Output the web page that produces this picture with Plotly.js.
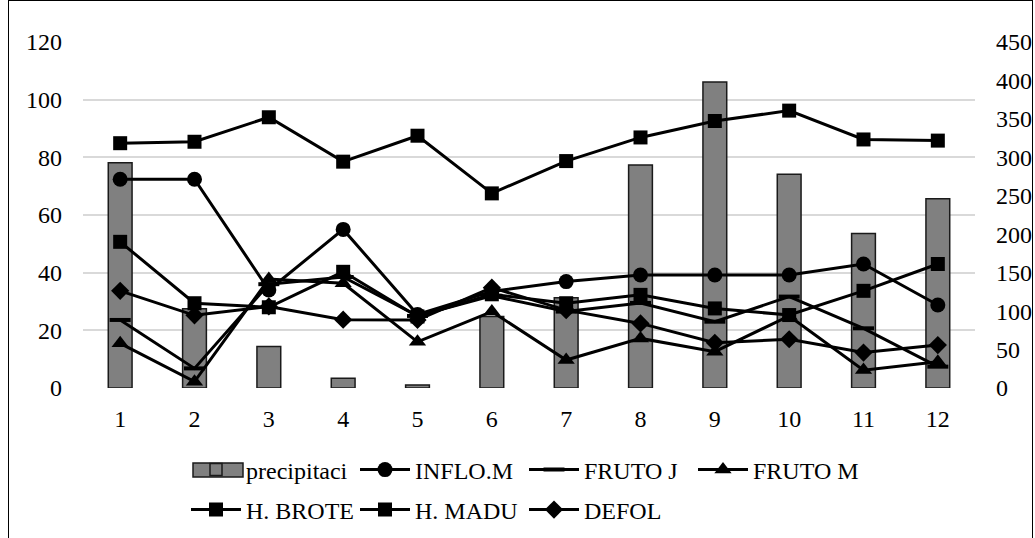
<!DOCTYPE html>
<html>
<head>
<meta charset="utf-8">
<script src="https://cdn.plot.ly/plotly-3.0.1.min.js"></script>
<style>
html,body{margin:0;padding:0;background:#fff;overflow:hidden;}
#wrap{position:relative;width:1035px;height:538px;}
#frame{position:absolute;left:8px;top:0px;width:1025px;height:600px;border:1.5px solid #000;box-sizing:border-box;pointer-events:none;}
#chart{position:absolute;left:0;top:0;width:1035px;height:538px;}
html body #wrap #chart svg text{font-family:'Liberation Serif', 'Times New Roman', serif !important;}
</style>
</head>
<body>
<div id="wrap"><div id="chart"></div><div id="frame"></div></div>
<script>
const months = [1,2,3,4,5,6,7,8,9,10,11,12];
const precipitaci = [293, 103, 54, 12.6, 4, 93, 117.5, 290, 398, 278, 201, 246];
const infloM  = [72.4, 72.4, 34, 55, 25.5, 33.5, 36.9, 39.2, 39.2, 39.2, 43, 28.8];
const frutoJ  = [23.6, 6.8, 36, 38.5, 25, 32, 26.5, 29.5, 23, 31.7, 20.7, 7.4];
const frutoM  = [15.5, 2.2, 37.8, 36.3, 16, 26.5, 9.7, 17.2, 12.6, 25, 6.2, 9.1];
const hBrote  = [50.7, 29.4, 28, 40.3, 24.8, 32.5, 29.4, 32.3, 27.6, 25.3, 33.7, 43];
const hMadu   = [84.9, 85.4, 93.9, 78.5, 87.5, 67.5, 78.7, 86.9, 92.6, 96.2, 86.2, 85.8];
const defol   = [33.7, 25.2, 28.3, 23.7, 23.6, 34.8, 27, 22.4, 15.7, 16.9, 12.3, 14.9];
const leftTicks = [0,20,40,60,80,100,120];
const rightTicks = [0,50,100,150,200,250,300,350,400,450];

const FAM = 'Liberation Serif';
function F(){ return {family: FAM, size: 24, color: '#000'}; }
function lineTrace(name, y, symbol, size, legend){
  return {type:'scatter', mode:'lines+markers', name:name, x:months, y:y, yaxis:'y2', legend:legend,
    line:{color:'#000', width:3},
    marker:{symbol:symbol, size:size, color:'#000', line:{color:'#000', width: symbol==='line-ew' ? 4 : 0}}};
}
const data = [
  {type:'bar', name:'precipitaci', x:months, y:precipitaci, yaxis:'y', width:0.32, legend:'legend',
   marker:{color:'#808080', line:{color:'#1a1a1a', width:1.5}}},
  lineTrace('INFLO.M', infloM, 'circle', 15, 'legend'),
  lineTrace('FRUTO J', frutoJ, 'line-ew', 15, 'legend'),
  lineTrace('FRUTO M', frutoM, 'triangle-up', 15, 'legend'),
  lineTrace('H. BROTE', hBrote, 'square', 14, 'legend2'),
  lineTrace('H. MADU', hMadu, 'square', 14, 'legend2'),
  lineTrace('DEFOL', defol, 'diamond', 14, 'legend2')
];
const H = 538, W = 1035;
const row1 = 470, row2 = 510;
function leg(px){ return {orientation:'h', xref:'container', yref:'container', xanchor:'left', yanchor:'middle',
  font:F(), itemwidth:50, entrywidth:104, bgcolor:'rgba(0,0,0,0)', traceorder:'normal',
  x:186/W, y:1 - px/H}; }
const layout = {
  width:W, height:H,
  margin:{l:83, r:60, t:42, b:150},
  paper_bgcolor:'rgba(0,0,0,0)', plot_bgcolor:'#fff',
  font:F(),
  showlegend:true,
  barmode:'overlay',
  xaxis:{range:[0.5,12.5], tickvals:months, ticktext:months.map(String), showgrid:false, zeroline:false,
    showline:false, ticks:'', tickfont:F(), ticklabelstandoff:14, automargin:false},
  yaxis:{range:[0,450], tickvals:rightTicks, side:'right', showgrid:false, automargin:false,
    zeroline:false, showline:false, ticks:'', tickfont:F(), ticklabelstandoff:20},
  yaxis2:{range:[0,120], tickvals:leftTicks, overlaying:'y', side:'left', showgrid:true, gridcolor:'#d9d9d9', gridwidth:1.5,
    zeroline:false, showline:false, ticks:'', tickfont:F(), ticklabelstandoff:20, automargin:false},
  legend:leg(row1),
  legend2:leg(row2),
  shapes:[{type:'rect', xref:'paper', yref:'paper', layer:'below',
    x0:(193-83)/892, x1:(243-83)/892, y0:(388-(row1+7))/346, y1:(388-(row1-7))/346,
    fillcolor:'#808080', line:{color:'#1a1a1a', width:1.5}}]
};
function fixFonts(){
  document.querySelectorAll('#chart text').forEach(t => t.style.setProperty('font-family', "'Liberation Serif', 'Times New Roman', serif", 'important'));
}
Plotly.newPlot('chart', data, layout, {displayModeBar:false}).then(fixFonts);
</script>
</body>
</html>
